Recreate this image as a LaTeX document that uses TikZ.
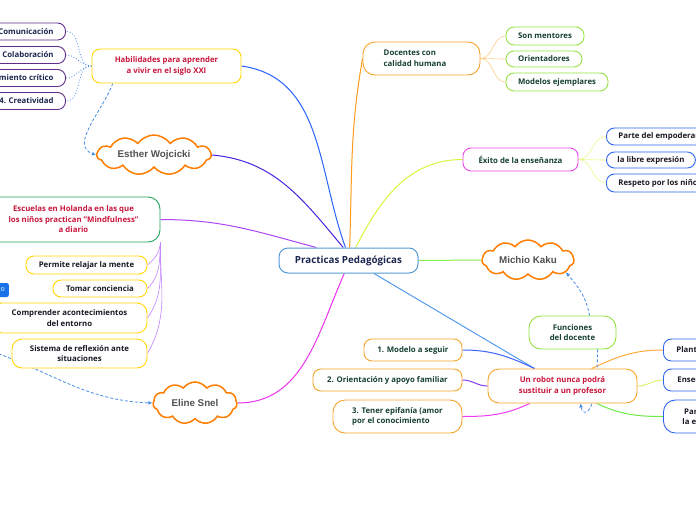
\documentclass[tikz,border=0pt]{standalone}
\usepackage{fontspec}
\setmainfont{Open Sans}
\newfontfamily\cloudfont{Liberation Sans}
\usetikzlibrary{shapes.symbols,arrows.meta,backgrounds}
\definecolor{crim}{RGB}{200,22,60}
\definecolor{dgreen}{RGB}{22,64,50}
\definecolor{navy}{RGB}{28,38,80}
\definecolor{ink}{RGB}{25,25,35}
\definecolor{byel}{RGB}{255,214,0}
\definecolor{bpur}{RGB}{95,45,135}
\definecolor{bgrn}{RGB}{35,165,95}
\definecolor{bora}{RGB}{247,163,40}
\definecolor{blgr}{RGB}{150,225,70}
\definecolor{bmag}{RGB}{235,70,235}
\definecolor{bblu}{RGB}{45,100,240}
\definecolor{bcen}{RGB}{85,155,215}
\definecolor{cldor}{RGB}{255,125,0}
\definecolor{cldtx}{RGB}{80,80,80}
\definecolor{dblue}{RGB}{70,140,230}
\definecolor{oblue}{RGB}{25,115,232}
\definecolor{kHab}{RGB}{40,100,255}
\definecolor{kEst}{RGB}{75,35,225}
\definecolor{kEsc}{RGB}{175,70,245}
\definecolor{kDoc}{RGB}{255,155,25}
\definecolor{kExi}{RGB}{215,245,60}
\definecolor{kMic}{RGB}{135,240,75}
\definecolor{kRob}{RGB}{85,155,240}
\definecolor{kEli}{RGB}{240,50,240}
\definecolor{kLor}{RGB}{255,205,140}
\definecolor{kLye}{RGB}{235,250,140}
\definecolor{kLpu}{RGB}{195,130,255}
\definecolor{kMa}{RGB}{60,100,255}
\definecolor{kMb}{RGB}{130,60,245}
\definecolor{kMc}{RGB}{240,60,240}
\definecolor{kPa}{RGB}{255,170,60}
\definecolor{kPb}{RGB}{225,240,110}
\definecolor{kPc}{RGB}{110,235,70}
\begin{document}
\begin{tikzpicture}[x=1pt,y=1pt,
  box/.style={draw, fill=white, rounded corners=8pt, line width=0.9pt, align=center, inner sep=0pt,
    font=\fontsize{7.8}{10.5}\selectfont\bfseries},
  cloudn/.style={cloud, cloud puffs=11, cloud puff arc=110, cloud ignores aspect, draw=cldor, line width=1.5pt, fill=white,
    inner sep=0pt, text=cldtx, font=\cloudfont\fontsize{9.8}{11}\selectfont\bfseries},
  conn/.style={line width=1pt},
  thin conn/.style={line width=0.6pt},
  dotconn/.style={draw=dblue, line width=0.8pt, dotted},
  dashar/.style={draw=dblue, line width=0.8pt, dash pattern=on 3pt off 2pt, -{Latex[length=4pt,width=4pt]}}
]
\useasboundingbox (0,0) rectangle (696,-520);

% central
\node[box, draw=bcen, line width=1pt, rounded corners=9pt, text=navy, minimum width=139pt, minimum height=25pt,
  font=\fontsize{9.8}{11}\selectfont\bfseries] (c) at (348.5,-260.5) {Practicas Pedagógicas};

% Habilidades branch
\node[box, draw=byel, text=crim, minimum width=149pt, minimum height=34pt] (h) at (166.5,-66) {Habilidades para aprender\\a vivir en el siglo XXI};
\node[box, draw=bpur, text=navy, anchor=east, inner xsep=12pt, minimum height=17pt] (la) at (66,-31.5) {1. Comunicación};
\node[box, draw=bpur, text=navy, anchor=east, inner xsep=12pt, minimum height=17pt] (lb) at (66,-55) {2. Colaboración};
\node[box, draw=bpur, text=navy, anchor=east, inner xsep=12pt, minimum height=17pt] (lc) at (66,-78) {3. Pensamiento crítico};
\node[box, draw=bpur, text=navy, anchor=east, inner xsep=12pt, minimum height=17pt] (ld) at (66,-101) {4. Creatividad};

% clouds
\node[cloudn, minimum width=114pt, minimum height=40pt] (es) at (154,-155) {Esther Wojcicki};
\node[cloudn, minimum width=92pt, minimum height=40pt] (mk) at (528,-260) {Michio Kaku};
\node[cloudn, minimum width=84pt, minimum height=42pt] (el) at (195,-403) {Eline Snel};

% Escuelas branch
\node[box, draw=bgrn, text=crim, minimum width=173pt, minimum height=45pt, rounded corners=12pt] (s) at (73.5,-219.5) {Escuelas en Holanda en las que\\los niños practican "Mindfulness"\\a diario};
\node[box, draw=byel, text=ink, minimum width=121pt, minimum height=18pt] (ya) at (86.5,-265) {Permite relajar la mente};
\node[box, draw=byel, text=ink, minimum width=94pt, minimum height=17pt] (yb) at (100,-288.5) {Tomar conciencia};
\node[box, draw=byel, text=ink, minimum width=155pt, minimum height=30pt, rounded corners=10pt] (yc) at (69.5,-318) {Comprender acontecimientos\\del entorno};
\node[box, draw=byel, text=ink, minimum width=135pt, minimum height=29pt, rounded corners=10pt] (yd) at (79.5,-353.5) {Sistema de reflexión ante\\situaciones};
\node[fill=oblue, text=white, rounded corners=2pt, anchor=east, minimum height=14pt, text width=22pt, align=right,
  inner xsep=4pt, inner ysep=0pt, font=\fontsize{7}{9}\selectfont] (ob) at (9,-290) {o};
\coordinate (src) at (-6,-352);

% Docentes branch
\node[box, draw=bora, minimum width=117pt, minimum height=33pt, rounded corners=12pt] (d) at (421.5,-58.5) {};
\node[align=left, text=dgreen, inner sep=0pt, font=\fontsize{7.8}{10.5}\selectfont\bfseries] (dt) at (415,-58.5) {Docentes con\\calidad humana};
\node[box, draw=blgr, text=dgreen, minimum width=78pt, minimum height=18pt] (ka) at (545,-36) {Son mentores};
\node[box, draw=blgr, text=dgreen, minimum width=76pt, minimum height=16pt] (kb) at (544,-59) {Orientadores};
\node[box, draw=blgr, text=dgreen, minimum width=102pt, minimum height=18pt] (kc) at (557,-82) {Modelos ejemplares};

% Exito branch
\node[box, draw=bmag, text=dgreen, minimum width=115pt, minimum height=23pt] (e) at (520.5,-159.5) {Éxito de la enseñanza};
\node[box, draw=bblu, text=ink, anchor=west, inner xsep=12pt, minimum height=17pt] (ea) at (606,-136.5) {Parte del empoderamiento};
\node[box, draw=bblu, text=ink, anchor=west, inner xsep=11pt, minimum height=16pt] (eb) at (606,-160) {la libre expresión};
\node[box, draw=bblu, text=ink, anchor=west, inner xsep=12pt, minimum height=18pt] (ec) at (606,-183) {Respeto por los niños};

% Robot branch
\node[box, draw=blgr, text=dgreen, minimum width=87pt, minimum height=33pt, rounded corners=12pt] (f) at (572.5,-332.5) {Funciones\\del docente};
\node[box, draw=bora, text=crim, minimum width=149pt, minimum height=34pt, rounded corners=11pt] (r) at (562.5,-386) {Un robot nunca podrá\\sustituir a un profesor};
\node[box, draw=bora, text=dgreen, minimum width=98pt, minimum height=22pt] (ma) at (413,-350) {1. Modelo a seguir};
\node[box, draw=bora, text=dgreen, minimum width=149pt, minimum height=22pt] (mb) at (387.5,-380) {2. Orientación y apoyo familiar};
\node[box, draw=bora, text=dgreen, align=left, minimum width=129pt, minimum height=33pt, rounded corners=12pt] (mc) at (397.5,-416.5) {3. Tener epifanía (amor\\por el conocimiento};
\node[box, draw=bblu, text=ink, anchor=west, inner xsep=13pt, minimum height=22pt] (pa) at (663,-350) {Planteamiento};
\node[box, draw=bblu, text=ink, anchor=west, inner xsep=14pt, minimum height=22pt] (pb) at (663,-380) {Enseñar};
\node[box, draw=bblu, text=ink, anchor=west, inner xsep=19pt, minimum height=33pt, rounded corners=12pt] (pc) at (663,-416.5) {Participa\\la escuela};

\begin{scope}[on background layer]
  \fill[white] (0,0) rectangle (696,-520);
  % main connectors
  \draw[conn, draw=kHab] (h.east) to[out=-8,in=110] (c.103);
  \draw[conn, draw=kEst] (es.east) to[out=-5,in=130] (c.112);
  \draw[conn, draw=kEsc] (s.east) to[out=0,in=165] (c.158);
  \draw[conn, draw=kDoc] (d.west) to[out=-100,in=88] (c.85);
  \draw[conn, draw=kExi] (e.west) to[out=180,in=63] (c.61);
  \draw[conn, draw=kMic] (c.east) -- (mk.west);
  \draw[conn, draw=kRob] (c.-27.5) -- (r.148);
  \draw[conn, draw=kEli] (el.east) to[out=0,in=-114] (c.-108);
  % Habilidades list
  \draw[dotconn] (h.west) to[out=180,in=0] (la.east);
  \draw[dotconn] (h.west) to[out=180,in=0] (lb.east);
  \draw[dotconn] (h.west) to[out=180,in=0] (lc.east);
  \draw[dotconn] (h.west) to[out=180,in=0] (ld.east);
  % Escuelas list
  \draw[thin conn, draw=kLpu] (s.south east) to[out=-95,in=40] (ya.east);
  \draw[thin conn, draw=kLpu] (s.south east) to[out=-93,in=45] (yb.east);
  \draw[thin conn, draw=kLpu] (s.south east) to[out=-92,in=55] (yc.east);
  \draw[thin conn, draw=kLpu] (s.south east) to[out=-91,in=60] (yd.east);
  % Docentes list
  \draw[thin conn, draw=kLor] (d.east) to[out=0,in=180] (ka.west);
  \draw[thin conn, draw=kLor] (d.east) to[out=0,in=180] (kb.west);
  \draw[thin conn, draw=kLor] (d.east) to[out=0,in=180] (kc.west);
  % Exito list
  \draw[thin conn, draw=kLye] (e.east) to[out=0,in=180] (ea.west);
  \draw[thin conn, draw=kLye] (e.east) to[out=0,in=180] (eb.west);
  \draw[thin conn, draw=kLye] (e.east) to[out=0,in=180] (ec.west);
  % Robot children
  \draw[conn, draw=kMa] (ma.east) to[out=0,in=155] (r.148);
  \draw[conn, draw=kMb] (mb.east) to[out=0,in=180] (r.west);
  \draw[conn, draw=kMc] (mc.east) to[out=0,in=-155] (r.-152);
  \draw[conn, draw=kPa] (r.31) to[out=25,in=180] (pa.west);
  \draw[conn, draw=kPb] (r.east) to[out=0,in=180] (pb.west);
  \draw[conn, draw=kPc] (r.-27) to[out=-25,in=180] (pc.west);
  % dashed relations
  \draw[dashar] (h.-162) to[out=-110,in=160] (es.west);
  \draw[dashar] (src) to[out=-20,in=178] (el.west);
  \draw[dashar] ([xshift=17pt]f.north) to[out=100,in=-50] (mk.-18);
  \draw[dashar] ([xshift=25pt]f.south) .. controls +(0,-70) and +(2,-14) .. ([xshift=18pt]r.south);
\end{scope}
\end{tikzpicture}
\end{document}
